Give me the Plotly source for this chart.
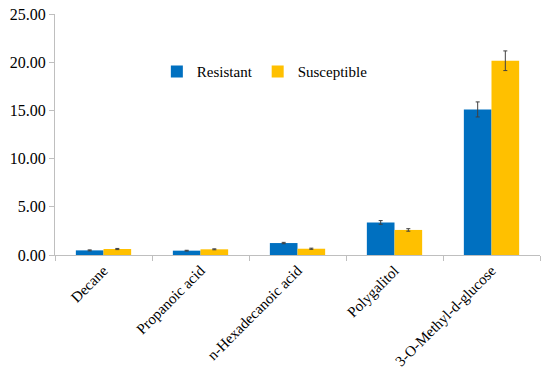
import plotly.graph_objects as go

categories = ["Decane", "Propanoic acid", "n-Hexadecanoic acid", "Polygalitol", "3-O-Methyl-d-glucose"]
resistant = [0.48, 0.45, 1.24, 3.38, 15.1]
resistant_err = [0.05, 0.04, 0.07, 0.19, 0.78]
susceptible = [0.62, 0.59, 0.65, 2.6, 20.15]
susceptible_err = [0.06, 0.05, 0.06, 0.13, 1.02]
yticks = [0, 5, 10, 15, 20, 25]

font = "Times New Roman, Liberation Serif, serif"

fig = go.Figure()
fig.add_bar(x=categories, y=resistant, name="Resistant", marker_color="#0070C0",
            marker_line_width=0,
            error_y=dict(type="data", array=resistant_err, color="#404040", thickness=1, width=2))
fig.add_bar(x=categories, y=susceptible, name="Susceptible", marker_color="#FFC000",
            marker_line_width=0,
            error_y=dict(type="data", array=susceptible_err, color="#404040", thickness=1, width=2))

fig.update_layout(
    width=550, height=378,
    margin=dict(l=55, r=10, t=14, b=123),
    paper_bgcolor="white", plot_bgcolor="white",
    font=dict(family=font, size=15, color="black"),
    barmode="group", bargap=0.43, bargroupgap=0,
    legend=dict(orientation="h", x=0.21, y=0.76, xanchor="left", yanchor="middle",
                font=dict(size=15, family=font), bgcolor="rgba(0,0,0,0)", itemwidth=30,
                traceorder="normal"),
    showlegend=True,
)
fig.update_xaxes(tickangle=-45, showline=True, linecolor="#BFBFBF", linewidth=1,
                 ticks="outside", tickson="boundaries", ticklen=5, tickcolor="#BFBFBF",
                 tickfont=dict(size=15, family=font), automargin=False,
                 ticklabeloverflow="allow")
fig.update_yaxes(range=[0, 25], tickvals=yticks, ticktext=[f"{v:.2f}" for v in yticks],
                 showline=True, linecolor="#BFBFBF", linewidth=1, ticks="outside",
                 ticklen=5, tickcolor="#BFBFBF", showgrid=False, zeroline=False,
                 tickfont=dict(size=16, family=font), automargin=False,
                 ticklabeloverflow="allow")

fig.write_html("out.html", config={"displayModeBar": False},
               post_script="document.body.style.margin='0';")
